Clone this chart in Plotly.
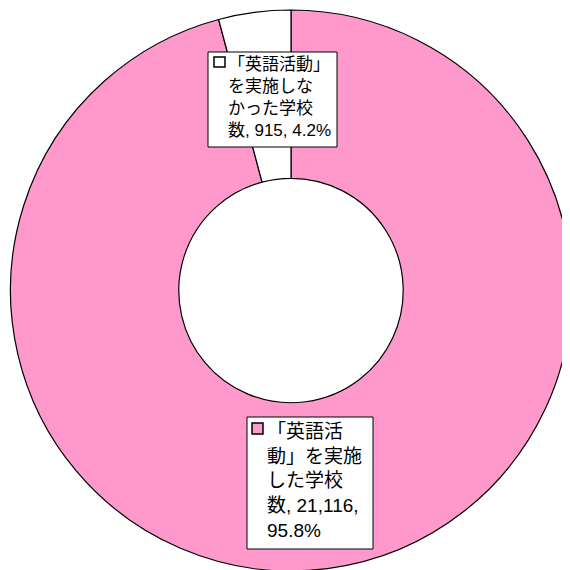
import plotly.graph_objects as go

# data
categories = ['「英語活動」を実施した学校数', '「英語活動」を実施しなかった学校数']
school_counts = [21116, 915]
slice_colors = ['#FF99CC', '#FFFFFF']

# wrapped label lines as in the original chart
label_lines = [
    ['「英語活', '動」を実施', 'した学校', '数, 21,116,', '95.8%'],
    ['「英語活動」', 'を実施しな', 'かった学校', '数, 915, 4.2%'],
]

W = H = 570
OFF = 8  # page body margin of the exported html


def px(x):
    return (x - OFF) / W


def py(y):
    return 1 - (y - OFF) / H


fig = go.Figure()

fig.add_trace(go.Pie(
    labels=categories,
    values=school_counts,
    sort=False,
    direction='clockwise',
    rotation=0,
    hole=0.40,
    marker=dict(colors=slice_colors, line=dict(color='black', width=1.2)),
    textinfo='none',
    hoverinfo='label+value+percent',
    domain=dict(x=[px(10), px(572)], y=[py(571), py(10)]),
    showlegend=False,
))

# label boxes: (box x0, y0, x1, y1), (key square), text anchor, font size
boxes = [
    dict(box=(247, 417, 373, 549), key=(252, 423, 263, 434), text=(265, 419), size=19),
    dict(box=(208, 52, 337, 147), key=(214, 57, 225, 67), text=(226, 53), size=17),
]

shapes = []
annotations = []
for i, b in enumerate(boxes):
    x0, y0, x1, y1 = b['box']
    shapes.append(dict(type='rect', xref='paper', yref='paper',
                       x0=px(x0), x1=px(x1), y0=py(y0), y1=py(y1),
                       fillcolor='white', line=dict(color='black', width=1)))
    k0, k1, k2, k3 = b['key']
    shapes.append(dict(type='rect', xref='paper', yref='paper',
                       x0=px(k0), x1=px(k2), y0=py(k1), y1=py(k3),
                       fillcolor=slice_colors[i], line=dict(color='black', width=1.5)))
    tx, ty = b['text']
    annotations.append(dict(
        x=px(tx), y=py(ty), xref='paper', yref='paper',
        xanchor='left', yanchor='top', align='left',
        text='<br>'.join(label_lines[i]), showarrow=False,
        font=dict(family='Liberation Sans, Noto Sans CJK JP', size=b['size'], color='black'),
    ))

fig.update_layout(
    width=W, height=H,
    margin=dict(l=0, r=0, t=0, b=0),
    paper_bgcolor='white',
    plot_bgcolor='white',
    shapes=shapes,
    annotations=annotations,
)

fig.write_html('out.html')
